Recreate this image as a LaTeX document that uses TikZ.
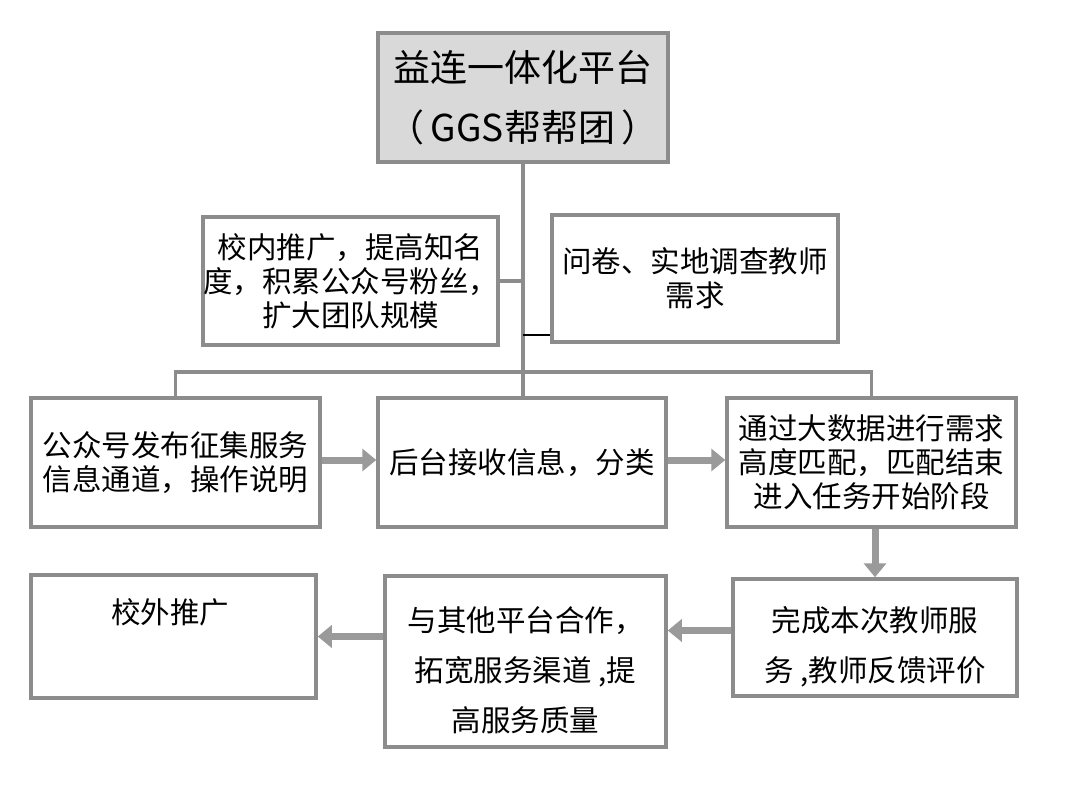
\documentclass[tikz,border=0pt]{standalone}
\usepackage{fontspec}
\setmainfont{Noto Sans CJK SC}
\usetikzlibrary{arrows.meta}
\definecolor{bordergray}{HTML}{8C8C8C}
\definecolor{fillgray}{HTML}{D9D9D9}
\definecolor{arrowgray}{HTML}{9A9A9A}
\begin{document}
\begin{tikzpicture}[x=1pt,y=-1pt,
  box/.style={draw=bordergray,line width=3.5pt,fill=white,align=center,inner sep=0pt,
    font=\fontsize{29.5}{34}\selectfont},
  wide/.style={font=\fontsize{29.5}{50}\selectfont},
  conn/.style={draw=bordergray,line width=3.5pt},
  flow/.style={draw=arrowgray,line width=7pt,-{Triangle[length=14pt,width=22pt]}}]
\fill[white] (0,0) rectangle (1083,794);
\useasboundingbox (0,0) rectangle (1083,794);

\node[box,fill=fillgray,minimum width=290,minimum height=129,font=\fontsize{37}{60}\selectfont]
  (top) at (523,97.5) {益连一体化平台\\（\,GGS帮帮团\,）};
\node[box,minimum width=287,minimum height=128] (l1) at (350.5,281)
  {校内推广，提高知名\\度，积累公众号粉丝，\\扩大团队规模};
\node[box,minimum width=286,minimum height=127] (r1) at (695,278.5)
  {问卷、实地调查教师\\需求};
\node[box,minimum width=289,minimum height=129] (a) at (175.5,462.5)
  {公众号发布征集服务\\信息通道，操作说明};
\node[box,minimum width=288,minimum height=129] (b) at (522,462.5)
  {后台接收信息，分类};
\node[box,minimum width=289,minimum height=129] (c) at (871.5,462.5)
  {通过大数据进行需求\\高度匹配，匹配结束\\进入任务开始阶段};
\node[box,wide,minimum width=284,minimum height=117] (d) at (875,637.5)
  {\rule{0pt}{44pt}完成本次教师服\\务 ,教师反馈评价};
\node[box,wide,minimum width=281,minimum height=171] (e) at (525.5,661.5)
  {\rule{0pt}{42pt}与其他平台合作，\\拓宽服务渠道 ,提\\高服务质量};
\node[box,minimum width=285,minimum height=123] (f) at (173.5,636.5) {};
\node[font=\fontsize{29.5}{34}\selectfont,anchor=north,inner sep=0pt] (ftext) at (170,598) {校外推广};

\coordinate (bar) at (0,372);
\draw[conn] (top.south) -- (top.south |- b.north);
\draw[conn] (l1.east) -- (l1.east -| top.south);
\draw[draw=black,line width=2.5pt] ([yshift=9pt]r1.south west) -- ([yshift=9pt]r1.south west -| top.south);
\draw[conn] (a.north) -- (a.north |- bar) -- (c.north |- bar) -- (c.north);

\draw[flow] (a.east |- 0,460) -- (b.west |- 0,460);
\draw[flow] (b.east |- 0,460) -- (c.west |- 0,460);
\draw[flow] (d.north |- c.south) -- (d.north);
\draw[flow] ([yshift=7pt]d.west) -- ([yshift=7pt]d.west -| e.east);
\draw[flow] (f.east -| e.west) -- (f.east);
\end{tikzpicture}
\end{document}
